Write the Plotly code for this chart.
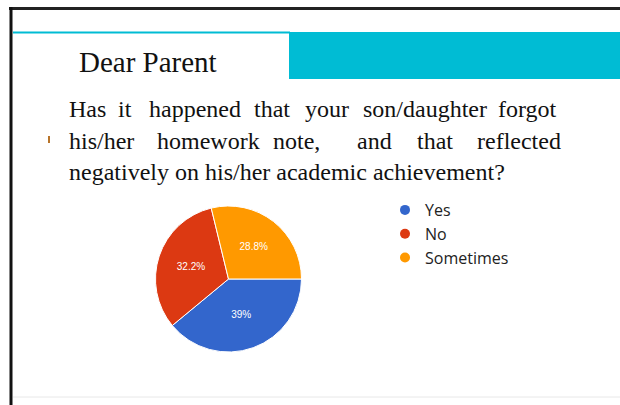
import plotly.graph_objects as go

# survey answers (share of parents, %)
labels = ["Yes", "No", "Sometimes"]
shares = [39, 32.2, 28.8]
colors = ["#3366cc", "#dc3912", "#ff9900"]

title = "Dear Parent"
# question text, justified lines split into words
line1 = ["Has", "it", "happened", "that", "your", "son/daughter", "forgot"]
line2 = ["his/her", "homework", "note,", "and", "that", "reflected"]
line3 = "negatively on his/her academic achievement?"

W, H = 620, 405
CYAN = "#00bcd4"
SERIF = "Liberation Serif, Times New Roman, serif"

fig = go.Figure()

fig.add_trace(go.Pie(
    labels=labels,
    values=shares,
    sort=False,
    direction="clockwise",
    rotation=90,
    marker=dict(colors=colors, line=dict(color="white", width=1)),
    textinfo="percent",
    textposition="inside",
    insidetextorientation="horizontal",
    textfont=dict(color="white", size=10, family="Arial, Liberation Sans, sans-serif"),
    domain=dict(x=[155.5 / W, 301.5 / W], y=[52 / H, 200 / H]),
    showlegend=False,
))

# legend with round markers
for lab, col in zip(labels, colors):
    fig.add_trace(go.Scatter(
        x=[None], y=[None], mode="markers", name=lab,
        marker=dict(color=col, size=10, symbol="circle"),
    ))

# slide decoration
shapes = [
    dict(type="line", x0=9, x1=W, y0=8.5, y1=8.5, line=dict(color="#222222", width=3)),
    dict(type="line", x0=11, x1=11, y0=7, y1=H, line=dict(color="#111111", width=3)),
    dict(type="line", x0=13, x1=290, y0=32.5, y1=32.5, line=dict(color=CYAN, width=2)),
    dict(type="rect", x0=289, x1=W, y0=32, y1=79, fillcolor=CYAN, line=dict(width=0)),
    dict(type="line", x0=13, x1=W, y0=397, y1=397, line=dict(color="#e8e8e8", width=1)),
    dict(type="line", x0=49, x1=49, y0=136, y1=143, line=dict(color="#b8742a", width=2)),
]

annotations = [dict(x=77, y=62, text=title, xanchor="left", yanchor="middle",
                    font=dict(family=SERIF, size=29, color="#111111"))]

pos1 = [67, 116, 147, 252, 303, 361, 496]
pos2 = [67, 155, 271, 355, 415, 475]
for words, xs, yc in ((line1, pos1, 109), (line2, pos2, 141)):
    for w, x in zip(words, xs):
        annotations.append(dict(x=x, y=yc, text=w, xanchor="left", yanchor="middle",
                                font=dict(family=SERIF, size=24, color="#111111")))
annotations.append(dict(x=67, y=172, text=line3, xanchor="left", yanchor="middle",
                        font=dict(family=SERIF, size=24, color="#111111")))
for a in annotations:
    a.update(xref="x", yref="y", showarrow=False)

fig.update_layout(
    width=W, height=H,
    margin=dict(l=0, r=0, t=0, b=0),
    paper_bgcolor="white",
    plot_bgcolor="rgba(0,0,0,0)",
    xaxis=dict(range=[0, W], visible=False, fixedrange=True),
    yaxis=dict(range=[H, 0], visible=False, fixedrange=True),
    shapes=shapes,
    annotations=annotations,
    legend=dict(x=385 / W, y=1 - 193 / H, xanchor="left", yanchor="top",
                font=dict(family="Open Sans, Liberation Sans, sans-serif", size=16, color="#222222"),
                bgcolor="rgba(0,0,0,0)", itemclick=False),
)

fig.write_html("out.html", config={"displayModeBar": False},
               post_script="document.body.style.margin='0';document.body.style.overflow='hidden';")
